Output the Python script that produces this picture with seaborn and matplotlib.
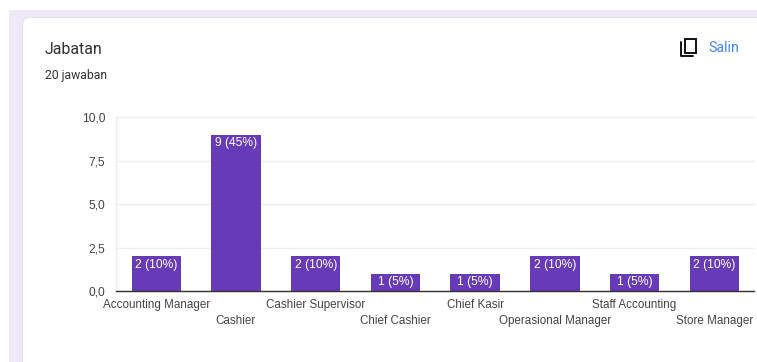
import matplotlib
matplotlib.use("Agg")
import matplotlib.pyplot as plt
from matplotlib.patches import FancyBboxPatch, Rectangle
import pandas as pd
import seaborn as sns

positions = ["Accounting Manager", "Cashier", "Cashier Supervisor", "Chief Cashier",
             "Chief Kasir", "Operasional Manager", "Staff Accounting", "Store Manager"]
counts = [2, 9, 2, 1, 1, 2, 1, 2]
y_ticks = [0, 2.5, 5, 7.5, 10]
y_tick_labels = ["0,0", "2,5", "5,0", "7,5", "10,0"]
total_responses = 20

W, H = 757, 362
PURPLE = "#673ab7"
LAVENDER = "#ede9f7"
GREY_TEXT = "#444444"

sns.set_theme(style="white")
plt.rcParams["font.family"] = ["Liberation Sans", "DejaVu Sans"]

fig = plt.figure(figsize=(W / 100, H / 100), dpi=100, facecolor="white")


def px_rect(x0, y0, x1, y1):
    """Convert a top-left pixel box to figure-fraction (x, y, w, h)."""
    return x0 / W, 1 - y1 / H, (x1 - x0) / W, (y1 - y0) / H


# Page background band and the white rounded card on top of it
x, y, w, h = px_rect(9, 10, 770, 375)
fig.add_artist(Rectangle((x, y), w, h, transform=fig.transFigure, fc=LAVENDER, ec="none", zorder=-3))
card = FancyBboxPatch((22.5, -40), 800, H - 17.5 + 40, boxstyle="round,pad=0,rounding_size=7",
                      transform=None, fc="white", ec="#e4e0f0", lw=0.8, zorder=-2)
fig.add_artist(card)

ax = fig.add_axes(px_rect(116.4, 117.4, 754.2, 291))
ax.patch.set_alpha(0)

data = pd.DataFrame({"position": positions, "count": counts})
sns.barplot(data=data, x="position", y="count", color=PURPLE, saturation=1,
            width=0.62, linewidth=0, ax=ax)

ax.set_xlim(-0.5, 7.5)
ax.set_ylim(0, 10)
ax.set_xlabel("")
ax.set_ylabel("")
ax.set_axisbelow(True)
ax.yaxis.grid(True, color="#ededed", lw=1, clip_on=False)
ax.set_yticks(y_ticks, y_tick_labels)
ax.tick_params(axis="y", length=0, pad=8, labelsize=8.64, labelcolor=GREY_TEXT)
ax.tick_params(axis="x", length=0, labelsize=8.35, labelcolor=GREY_TEXT)

# Keep the gridline at the axis maximum visible on the axes edge
for line in ax.get_ygridlines():
    line.set_clip_on(False)

# Alternate the category labels over two rows
for i, tick in enumerate(ax.xaxis.get_major_ticks()):
    tick.set_pad(6 if i % 2 == 0 else 17.5)
for spine in ("top", "right"):
    ax.spines[spine].set_visible(False)
ax.spines["left"].set_color("#ededed")
ax.spines["left"].set_linewidth(1)
ax.spines["bottom"].set_color("#333333")
ax.spines["bottom"].set_linewidth(1)

value_labels = [f"{c} ({c * 100 // total_responses}%)" for c in counts]
ax.bar_label(ax.containers[0], labels=value_labels, padding=-10.5, color="white", fontsize=8.64)

# Card header
fig.text(45 / W, 1 - 49 / H, "Jabatan", family="Roboto", fontsize=11.4, color="#303134", va="center")
fig.text(45 / W, 1 - 76 / H, "20 jawaban", family="Roboto", fontsize=8.7, color="#303134", va="center")
fig.text(708 / W, 1 - 47.5 / H, "Salin", family="Roboto", fontsize=10.2, color="#4285f4", va="center")

# Copy icon: front sheet plus the two exposed edges of the rear sheet
x, y, w, h = px_rect(684.5, 38.5, 695.5, 52.5)
fig.add_artist(Rectangle((x, y), w, h, transform=fig.transFigure, fc="none", ec="#111111", lw=1.4))
rear_x = [681 / W, 681 / W, 693 / W]
rear_y = [1 - 42 / H, 1 - 56 / H, 1 - 56 / H]
fig.add_artist(plt.Line2D(rear_x, rear_y, transform=fig.transFigure, color="#111111", lw=1.4))

fig.savefig("out.png", dpi=100, facecolor="white")
